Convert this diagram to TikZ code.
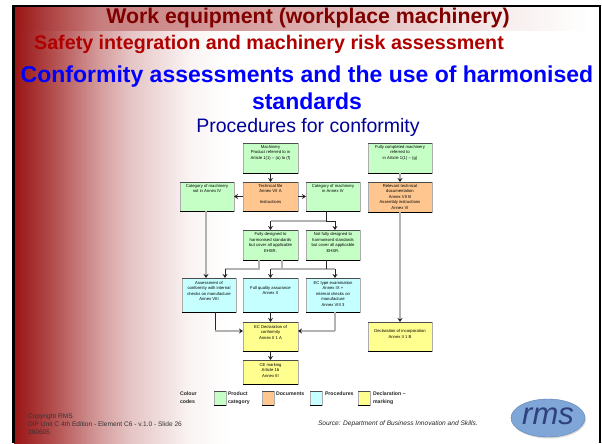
\documentclass[tikz,border=0pt]{standalone}
\usepackage{fontspec}
\setmainfont{Liberation Sans}
\usetikzlibrary{arrows.meta}
\definecolor{gfill}{HTML}{C6FFC6}
\definecolor{ofill}{HTML}{FFC78F}
\definecolor{cfill}{HTML}{C6FFFF}
\definecolor{yfill}{HTML}{FFFF8F}
\definecolor{bandred}{HTML}{9A1414}
\definecolor{titlered}{HTML}{800000}
\definecolor{subred}{HTML}{B00000}
\definecolor{headblue}{HTML}{0000FF}
\definecolor{procblue}{HTML}{000099}
\definecolor{logofill}{HTML}{80A5D7}
\definecolor{logoedge}{HTML}{5A82B9}
\definecolor{logotext}{HTML}{2D417D}
\pgfdeclarehorizontalshading{pagebg}{100bp}{color(0bp)=(bandred); color(25bp)=(bandred);
 color(28bp)=(bandred!78!white); color(32.3bp)=(bandred!42!white); color(34.9bp)=(bandred!25!white); color(40bp)=(bandred!5!white); color(43.4bp)=(white); color(100bp)=(white)}
\pgfdeclarehorizontalshading{bandbg}{100bp}{color(0bp)=(bandred); color(25bp)=(bandred);
 color(28bp)=(bandred!80!white); color(32.3bp)=(bandred!55!white); color(49.4bp)=(bandred!35!white); color(57.9bp)=(bandred!22!white); color(66.5bp)=(bandred!8!white); color(74.1bp)=(white); color(100bp)=(white)}
\tikzset{
 flowbox/.style={rectangle,inner sep=0pt,outer sep=0pt,draw=gray!65,line width=0.4pt,anchor=north west,align=center,
   append after command={(\tikzlastnode.north west) edge[draw=black!70,line width=0.4pt] (\tikzlastnode.north east)
   (\tikzlastnode.south west) edge[draw=black,line width=0.9pt] (\tikzlastnode.south east)}},
 greenbox/.style={flowbox,fill=gfill},
 orangebox/.style={flowbox,fill=ofill},
 cyanbox/.style={flowbox,fill=cfill},
 yellowbox/.style={flowbox,fill=yfill},
 swatch/.style={flowbox,minimum width=12pt,minimum height=14pt},
 darkline/.style={draw=black!85,line width=1pt},
 greyline/.style={draw=gray!60,line width=1.7pt},
 darkarrow/.style={darkline,-{Stealth[length=4pt,width=5pt,color=black!85]}},
 greyarrow/.style={greyline,-{Stealth[length=4pt,width=5pt,color=black!85]}},
 pagetext/.style={inner sep=0pt,outer sep=0pt,anchor=center},
 legendtext/.style={inner sep=0pt,outer sep=0pt,anchor=north west,align=left,font=\fontsize{5.2}{7.5}\selectfont\bfseries,text=black!85},
}
\newcommand{\flownode}[8]{% name x1 y1 x2 y2 style topskip text
 \pgfmathsetlengthmacro{\bw}{(#4-#2)*1pt}\pgfmathsetlengthmacro{\bh}{(#5-#3)*1pt}
 \node[#6] (#1) at (#2,#3) {\parbox[c][\bh][t]{\bw}{\centering\fontsize{4.2}{5.6}\selectfont\vspace*{#7pt}#8}};}
\begin{document}
\begin{tikzpicture}[x=1pt,y=-1pt]
\useasboundingbox (0,0) rectangle (602,444);
\fill[white] (0,0) rectangle (602,444);
\shade[shading=pagebg] (14,7) rectangle (600,443);
\shade[shading=bandbg] (14,7) rectangle (600,31);
\draw[black,line width=2.5pt] (13.5,443) -- (13.5,6) -- (600,6) -- (600,443);
\node[pagetext,text=titlered,font=\fontsize{21.3}{25}\selectfont\bfseries] (title) at (308,17.6) {Work equipment (workplace machinery)};
\node[pagetext,text=subred,font=\fontsize{19.7}{23}\selectfont\bfseries] (sub) at (269,44) {Safety integration and machinery risk assessment};
\node[pagetext,text=headblue,align=center,font=\fontsize{23}{27}\selectfont\bfseries] (head) at (307,87.6) {Conformity assessments and the use of harmonised\\ standards};
\node[pagetext,text=procblue,font=\fontsize{19.5}{23}\selectfont] (proc) at (308,127) {Procedures for conformity};

\flownode{mach}{243}{143}{298}{173}{greenbox}{2}{Machinery\\Product referred to in\\Article 1(1) – (a) to (f)}
\flownode{full}{368}{143}{432}{173}{greenbox}{2}{Fully completed machinery\\referred to\\in Article 1(1) – (g)}
\flownode{catno}{180}{182}{234}{211}{greenbox}{2}{Category of machinery\\not in Annex IV}
\flownode{tech}{243}{182}{298}{211}{orangebox}{2}{Technical file\\Annex VII A\\[5.5pt]Instructions}
\flownode{catin}{306}{182}{360}{211}{greenbox}{2}{Category of machinery\\in Annex IV}
\flownode{rel}{368}{182}{432}{212}{orangebox}{2}{Relevant technical\\documentation\\Annex VII B\\Assembly instructions\\Annex VI}
\flownode{fds}{243}{230}{298}{260}{greenbox}{2.5}{Fully designed to\\harmonised standards\\but cover all applicable\\EHSR.}
\flownode{nfd}{306}{230}{360}{260}{greenbox}{2.5}{Not fully designed to\\harmonised standards\\but cover all applicable\\EHSR.}
\flownode{ass}{182}{278}{236}{312}{cyanbox}{3}{Assessment of\\conformity with internal\\checks on manufacture\\Annex VIII}
\flownode{fqa}{243}{278}{298}{312}{cyanbox}{8}{Full quality assurance\\Annex X}
\flownode{ect}{306}{278}{360}{312}{cyanbox}{3}{EC type examination\\Annex IX +\\internal checks on\\manufacture\\Annex VIII 3}
\flownode{ecd}{243}{322}{298}{351}{yellowbox}{3}{EC Declaration of\\conformity\\Annex II 1 A}
\flownode{inc}{368}{322}{432}{351}{yellowbox}{7.5}{Declaration of incorporation\\Annex II 1 B}
\flownode{cem}{243}{360}{298}{384}{yellowbox}{3}{CE marking\\Article 16\\Annex III}

\coordinate (ja) at (326,221);
\coordinate (jb) at (282,269);
\coordinate (jc) at (259,269);
\coordinate (jd) at (215,331);
\coordinate (je) at (335,331);
\coordinate (xa) at (206,0);
\coordinate (xb) at (225,0);
\coordinate (xc) at (335,0);
\coordinate (xd) at (326,0);

\draw[darkarrow] (mach) -- (tech);
\draw[darkarrow] (tech.west |- catno.center) -- (catno.east);
\draw[darkarrow] (tech.east) -- (catin.west);
\draw[greyarrow] (full) -- (rel);
\draw[greyarrow] (rel) -- (inc);
\draw[darkline] (catin.south -| ja) -- (ja);
\draw[greyline] (ja) -- (ja -| fds.north);
\draw[darkline] (ja) -- (ja -| xc);
\draw[darkarrow] (ja -| fds.north) -- (fds.north);
\draw[darkarrow] (ja -| xc) -- (nfd.north -| xc);
\draw[greyarrow] (catno.south -| xa) -- (ass.north -| xa);
\draw[greyline] (fds.south -| jc) -- (jc) -- (jc -| xb);
\draw[darkarrow] (jc -| xb) -- (ass.north -| xb);
\draw[greyline] (fds.south -| jb) -- (jb);
\draw[greyline] (jb -| fqa.north) -- (jb -| xc);
\draw[darkline] (nfd.south -| xd) -- (jb -| xd);
\draw[darkarrow] (jb -| fqa.north) -- (fqa.north);
\draw[darkarrow] (jb -| xc) -- (ect.north -| xc);
\draw[darkline] (ass.south -| jd) -- (jd);
\draw[greyarrow] (jd) -- (jd -| ecd.west);
\draw[greyline] (ect.south -| je) -- (je);
\draw[greyarrow] (je) -- (je -| ecd.east);
\draw[darkarrow] (fqa) -- (ecd);
\draw[darkarrow] (ecd) -- (cem);

\node[legendtext] (lg0) at (180,392) {Colour\\codes};
\node[swatch,fill=gfill] (sw1) at (214,391) {};
\node[legendtext] (lg1) at (228,392) {Product\\category};
\node[swatch,fill=ofill] (sw2) at (262,391) {};
\node[legendtext] (lg2) at (276,392) {Documents};
\node[swatch,fill=cfill] (sw3) at (310,391) {};
\node[legendtext] (lg3) at (325,392) {Procedures};
\node[swatch,fill=yfill] (sw4) at (358,391) {};
\node[legendtext] (lg4) at (373,392) {Declaration –\\marking};

\node[pagetext,anchor=north west,align=left,text=black!80,font=\fontsize{6.6}{8}\selectfont] (foot) at (28,413.5) {Copyright RMS\\DIP Unit C 4th Edition - Element C6 - v.1.0 - Slide 26\\260605};
\node[pagetext,anchor=west,text=black!85,font=\fontsize{6.6}{8}\selectfont\itshape] (src) at (318,424) {Source: Department of Business Innovation and Skills.};

\fill[gray!30] (549,419.5) ellipse [x radius=37pt,y radius=19pt];
\fill[draw=logoedge,fill=logofill] (548,418) ellipse [x radius=37pt,y radius=19pt];
\node[pagetext,text=logotext,font=\fontsize{31}{31}\selectfont\itshape] (logotxt) at (548,416) {rms};
\end{tikzpicture}
\end{document}
